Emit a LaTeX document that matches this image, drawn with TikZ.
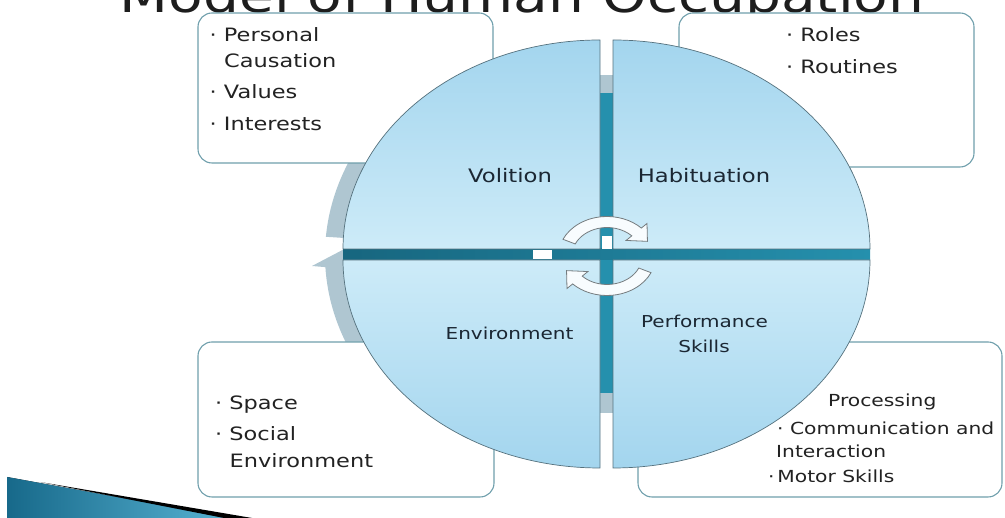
\documentclass[tikz,border=0pt]{standalone}
\usepackage{fontspec}
\setmainfont{DejaVu Sans}[FakeStretch=1.22]
\usetikzlibrary{positioning}
\definecolor{MOHOTeal}{HTML}{2590AD}
\definecolor{MOHOTealDark}{HTML}{17667F}
\definecolor{MOHORing}{HTML}{AFC6D1}
\definecolor{MOHOBorder}{HTML}{6F9FAC}
\definecolor{MOHOEdge}{HTML}{55717D}
\definecolor{MOHOSkyDark}{HTML}{A3D5EE}
\definecolor{MOHOSkyLight}{HTML}{CDEBF8}
\definecolor{MOHONavy}{HTML}{1B2733}
\definecolor{MOHOText}{HTML}{222222}
\definecolor{MOHOSwooshDark}{HTML}{17698A}
\definecolor{MOHOSwooshLight}{HTML}{58B3D3}

\begin{document}
\begin{tikzpicture}[x=1pt, y=1pt,
    infobox/.style={draw=MOHOBorder, line width=1.1pt, fill=white, rounded corners=14pt},
    quad/.style={draw=MOHOEdge, line width=0.7pt},
    upperquad/.style={quad, top color=MOHOSkyDark, bottom color=MOHOSkyLight},
    lowerquad/.style={quad, top color=MOHOSkyLight, bottom color=MOHOSkyDark},
    quadlabel/.style={text=MOHONavy, inner sep=0pt, anchor=base},
    itemtext/.style={text=MOHOText, inner sep=0pt, anchor=base west, font=\fontsize{18.4}{22}\selectfont},
    skilltext/.style={itemtext, font=\fontsize{16.6}{20}\selectfont},
    cyclearrow/.style={fill=white!92!MOHOSkyDark, draw=gray!75!MOHOEdge, line width=0.8pt}]

    \useasboundingbox (0,0) rectangle (1005,518);

    % title, cut by the top edge
    \node[anchor=base, inner sep=0pt, text=MOHOText!85!black, font=\fontsize{46.4}{50}\selectfont] (title) at (522,505) {Model of Human Occupation};

    % ring arrow behind the circle
    \fill[MOHORing] (607,263) -- +(225:282 and 232) arc[start angle=225, end angle=183, x radius=282, y radius=232] -- (312,252) -- (352,273) -- cycle;
    \fill[MOHORing] (607,263) -- +(175.5:282 and 232) arc[start angle=175.5, end angle=140, x radius=282, y radius=232] -- cycle;

    % text boxes
    \node[infobox, minimum width=295pt, minimum height=150pt] (volbox) at (345.5,430) {};
    \node[infobox, minimum width=295pt, minimum height=154pt] (habbox) at (826.5,428) {};
    \node[infobox, minimum width=296pt, minimum height=155pt] (envbox) at (346,98.5) {};
    \node[infobox, minimum width=364pt, minimum height=155pt] (perfbox) at (820,98.5) {};

    % cross between the quarters
    \fill[MOHORing] (600,425) rectangle (613,443);
    \fill[MOHORing] (600,105) rectangle (613,125);
    \fill[MOHOTeal] (600,125) rectangle (613,425);
    \fill[left color=MOHOTealDark, right color=MOHOTeal] (343,258) rectangle (870,269);
    \fill[white] (602,269) rectangle (612,282);
    \fill[white] (533,259) rectangle (552,268);

    % the four quarters
    \path[upperquad] (600,269) -- (343,269) arc[start angle=180, end angle=90, x radius=257, y radius=209] -- cycle;
    \path[upperquad] (613,269) -- (613,478) arc[start angle=90, end angle=0, x radius=257, y radius=209] -- cycle;
    \path[lowerquad] (600,258) -- (600,50) arc[start angle=270, end angle=180, x radius=257, y radius=208] -- cycle;
    \path[lowerquad] (613,258) -- (870,258) arc[start angle=0, end angle=-90, x radius=257, y radius=208] -- cycle;

    % cycle arrows in the middle
    \begin{scope}[shift={(607,262)}, xscale=1.23]
        \foreach \rot in {0,180}{
            \filldraw[cyclearrow, rotate=\rot] (155:28.5) -- (155:39.5) arc[start angle=155, end angle=45, radius=39.5]
                -- (45:46) -- (24:36) -- (45:22) -- (45:28.5) arc[start angle=45, end angle=155, radius=28.5] -- cycle;
        }
    \end{scope}

    % quarter labels
    \node[quadlabel, font=\fontsize{18.6}{22}\selectfont] (volition) at (510,335) {Volition};
    \node[quadlabel, font=\fontsize{18.6}{22}\selectfont] (habituation) at (704,335) {Habituation};
    \node[quadlabel, font=\fontsize{16.4}{20}\selectfont] (environment) at (509.5,178) {Environment};
    \node[quadlabel, font=\fontsize{16.4}{20}\selectfont] (performance) at (704.5,190) {Performance};
    \node[quadlabel, font=\fontsize{16.4}{20}\selectfont] (skills) at (704,165) {Skills};

    % box items
    \node[itemtext] (causation1) at (209.5,476) {· Personal};
    \node[itemtext] (causation2) at (224,450) {Causation};
    \node[itemtext] (values) at (209.5,419) {· Values};
    \node[itemtext] (interests) at (209.5,387) {· Interests};

    \node[itemtext] (roles) at (786,476) {· Roles};
    \node[itemtext] (routines) at (786,444) {· Routines};

    \node[itemtext] (space) at (215,108) {· Space};
    \node[itemtext] (social1) at (215,77) {· Social};
    \node[itemtext] (social2) at (229.5,50) {Environment};

    \node[skilltext] (processing) at (828,111) {Processing};
    \node[skilltext] (communication) at (777,83) {· Communication and};
    \node[skilltext] (interaction) at (776,60) {Interaction};
    \node[skilltext] (motor) at (768,35) {·\thinspace Motor Skills};

    % corner swoosh
    \fill[left color=MOHOSwooshDark, right color=MOHOSwooshLight] (7,0) -- (7,41) -- (232,0) -- cycle;
    \fill[black] (40,36) -- (252,0) -- (224,0) -- cycle;

\end{tikzpicture}
\end{document}
